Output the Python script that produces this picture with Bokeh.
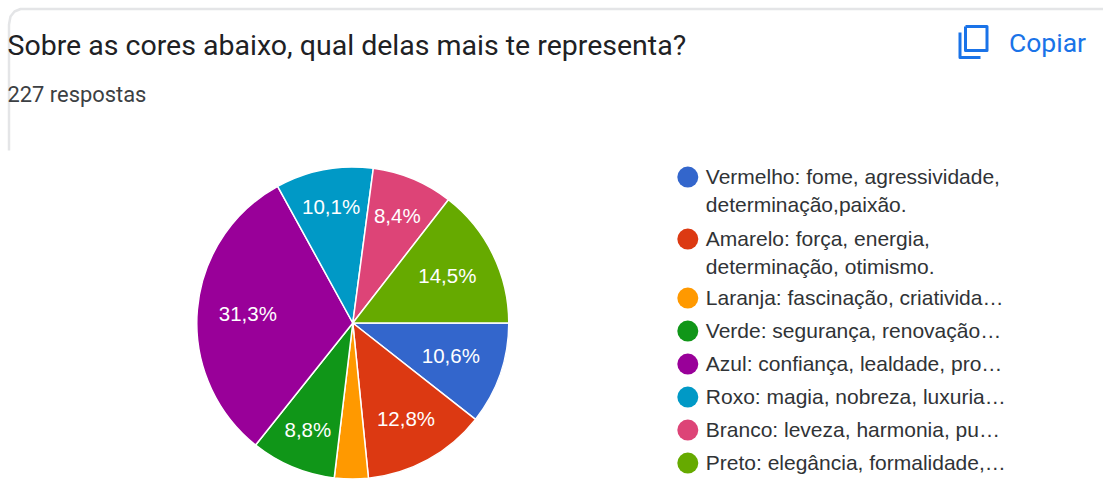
import math
from bokeh.embed import file_html
from bokeh.resources import INLINE
from bokeh.plotting import figure
from bokeh.models import Range1d, ColumnDataSource
from bokeh.core.properties import value

title_text = "Sobre as cores abaixo, qual delas mais te representa?"
subtitle_text = "227 respostas"
copy_text = "Copiar"
shares = [10.6, 12.8, 3.5, 8.8, 31.3, 10.1, 8.4, 14.5]
share_labels = ["10,6%", "12,8%", "", "8,8%", "31,3%", "10,1%", "8,4%", "14,5%"]
colors = ["#3366CC", "#DC3912", "#FF9900", "#109618", "#990099", "#0099C6", "#DD4477", "#66AA00"]
legend_lines = [
    ["Vermelho: fome, agressividade,", "determinação,paixão."],
    ["Amarelo: força, energia,", "determinação, otimismo."],
    ["Laranja: fascinação, criativida…"],
    ["Verde: segurança, renovação…"],
    ["Azul: confiança, lealdade, pro…"],
    ["Roxo: magia, nobreza, luxuria…"],
    ["Branco: leveza, harmonia, pu…"],
    ["Preto: elegância, formalidade,…"],
]
label_radius = [0.665, 0.708, 0.7, 0.747, 0.675, 0.756, 0.74, 0.675]

W, H = 1103, 489
X = lambda px: px
Y = lambda py: H - py

p = figure(width=W, height=H, x_range=Range1d(0, W), y_range=Range1d(0, H),
           output_backend="svg", toolbar_location=None, min_border=0,
           outline_line_color=None, background_fill_color="white")
p.axis.visible = False
p.grid.visible = False

# card edge
p.line([X(8.5), X(8.5), X(10), X(14), X(20), X(1103)],
       [Y(150), Y(24), Y(16), Y(11), Y(8.5), Y(8.5)],
       line_color="#e4e5e7", line_width=2.5)

# pie
cx, cy, R = X(352.3), Y(322.5), 156
total = sum(shares)
starts, ends, mids = [], [], []
a = 0.0
for s in shares:
    b = a - s / total * 2 * math.pi
    starts.append(b); ends.append(a); mids.append((a + b) / 2)
    a = b
src = ColumnDataSource(dict(start=starts, end=ends, color=colors))
p.wedge(x=cx, y=cy, radius=R, start_angle="start", end_angle="end", fill_color="color",
        line_color="white", line_width=1.5, source=src)
lab = ColumnDataSource(dict(
    x=[cx + f * R * math.cos(m) for f, m in zip(label_radius, mids)],
    y=[cy + 1 + f * R * math.sin(m) for f, m in zip(label_radius, mids)],
    t=share_labels))
p.text(x="x", y="y", text="t", source=lab, text_color="white", text_font=value("Liberation Sans"),
       text_font_size="20.5px", text_align="center", text_baseline="middle")

# heading
p.text(x=[X(7)], y=[Y(45)], text=[title_text], text_font=value("Roboto"), text_font_size="28.5px",
       text_color="#202124", text_align="left", text_baseline="middle")
p.text(x=[X(7)], y=[Y(94)], text=[subtitle_text], text_font=value("Roboto"), text_font_size="21.9px",
       text_color="#3c4043", text_align="left", text_baseline="middle")
p.text(x=[X(1008.5)], y=[Y(41.5)], text=[copy_text], text_font=value("Roboto"), text_font_size="26.5px",
       text_color="#1a73e8", text_align="left", text_baseline="middle")

# copy icon
p.line([X(965), X(965), X(986.5), X(986.5), X(965)], [Y(26), Y(50), Y(50), Y(26), Y(26)],
       line_color="#1a73e8", line_width=3, line_join="round")
p.line([X(959.5), X(959.5), X(980)], [Y(32), Y(57), Y(57)], line_color="#1a73e8", line_width=3,
       line_join="round")

# legend
rows = [177, 239, 298, 331, 364, 397, 430, 463]
LINE = 28
for row, lines, c in zip(rows, legend_lines, colors):
    p.scatter(x=[X(687.3)], y=[Y(row - 0.4)], size=21, marker="circle", fill_color=c, line_color=None)
    for i, t in enumerate(lines):
        p.text(x=[X(705.3)], y=[Y(row - 1 + i * LINE)], text=[t], text_font=value("Liberation Sans"),
               text_font_size="21px", text_color="#303336", text_align="left", text_baseline="middle")

open("out.html", "w").write(file_html(p, INLINE))
